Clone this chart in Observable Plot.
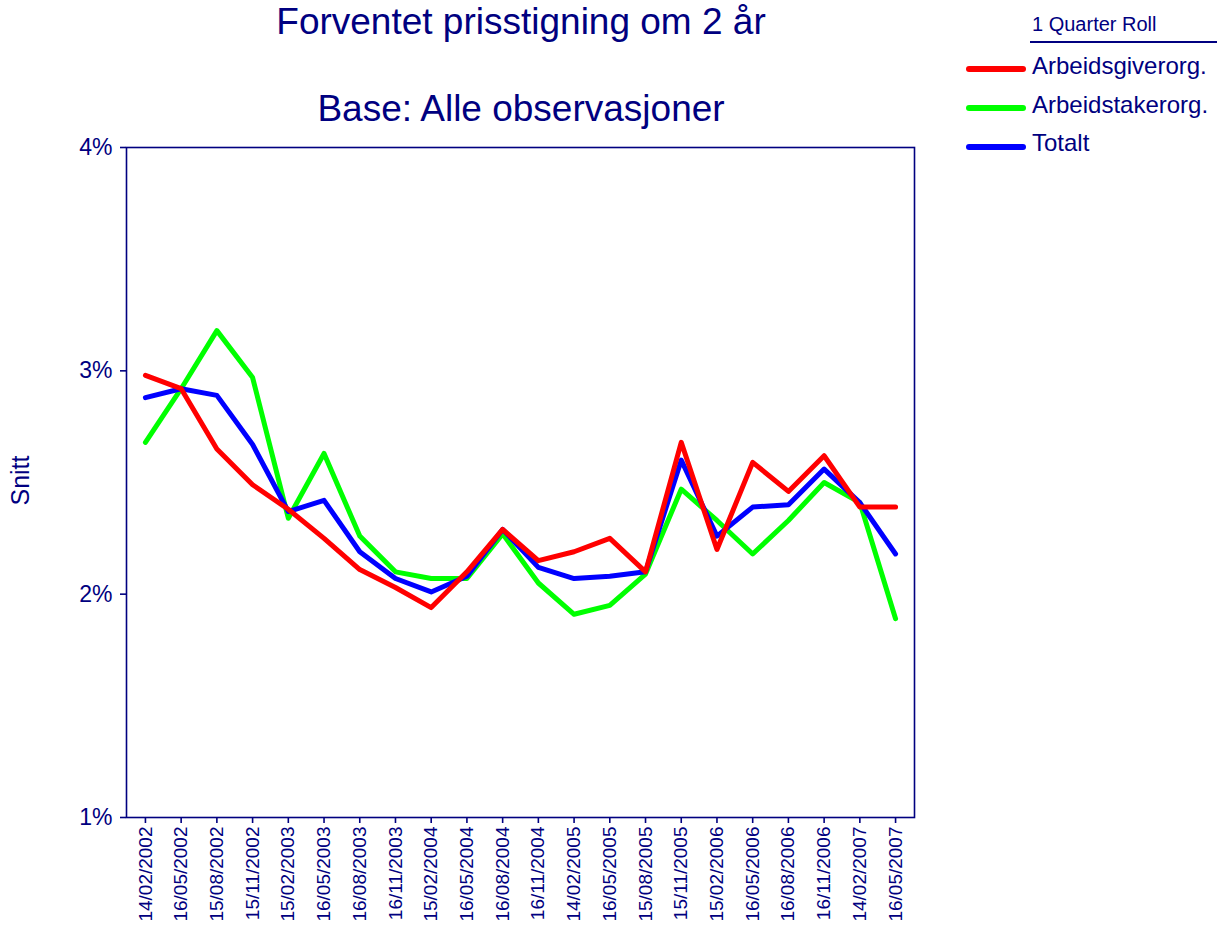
<!DOCTYPE html>
<html>
<head>
<meta charset="utf-8">
<script src="https://cdn.jsdelivr.net/npm/d3@7"></script>
<script src="https://cdn.jsdelivr.net/npm/@observablehq/plot@0.6"></script>
<style>
  html, body { margin: 0; padding: 0; background: #fff; }
  #wrap { position: relative; width: 1217px; height: 927px; font-family: "Liberation Sans", Arial, sans-serif; color: #000080; }
  .t { position: absolute; white-space: nowrap; line-height: normal; }
  .sw { position: absolute; height: 6px; border-radius: 3px; width: 60px; left: 966px; }
</style>
</head>
<body>
<div id="wrap">
  <div id="chart" style="position:absolute;left:0;top:0;"></div>
  <div class="t" style="left:0;width:1042px;text-align:center;top:1px;font-size:37px;">Forventet prisstigning om 2 år</div>
  <div class="t" style="left:0;width:1042px;text-align:center;top:88px;font-size:37px;">Base: Alle observasjoner</div>
  <div class="t" style="left:-30px;width:100px;text-align:center;top:466px;font-size:25px;transform:rotate(-90deg);transform-origin:50% 50%;">Snitt</div>
  <div class="t" style="left:1032px;top:13px;font-size:20px;">1 Quarter Roll</div>
  <div style="position:absolute;left:1030px;top:41px;width:187px;height:2px;background:#000080;"></div>
  <div class="sw" style="top:66px;background:#ff0000;"></div>
  <div class="t" style="left:1032px;top:52px;font-size:24px;">Arbeidsgiverorg.</div>
  <div class="sw" style="top:105px;background:#00ff00;"></div>
  <div class="t" style="left:1032px;top:91px;font-size:24px;">Arbeidstakerorg.</div>
  <div class="sw" style="top:144px;background:#0000ff;"></div>
  <div class="t" style="left:1032px;top:129px;font-size:24px;">Totalt</div>
</div>
<script>
const dates = ["14/02/2002","16/05/2002","15/08/2002","15/11/2002","15/02/2003","16/05/2003","16/08/2003","16/11/2003","15/02/2004","16/05/2004","16/08/2004","16/11/2004","14/02/2005","16/05/2005","15/08/2005","15/11/2005","15/02/2006","16/05/2006","16/08/2006","16/11/2006","14/02/2007","16/05/2007"];
const arbeidsgiver = [2.98, 2.92, 2.65, 2.49, 2.38, 2.25, 2.11, 2.03, 1.94, 2.10, 2.29, 2.15, 2.19, 2.25, 2.10, 2.68, 2.20, 2.59, 2.46, 2.62, 2.39, 2.39];
const arbeidstaker = [2.68, 2.92, 3.18, 2.97, 2.34, 2.63, 2.26, 2.10, 2.07, 2.07, 2.27, 2.05, 1.91, 1.95, 2.09, 2.47, 2.33, 2.18, 2.33, 2.50, 2.41, 1.89];
const totalt = [2.88, 2.92, 2.89, 2.67, 2.37, 2.42, 2.19, 2.07, 2.01, 2.08, 2.29, 2.12, 2.07, 2.08, 2.10, 2.60, 2.26, 2.39, 2.40, 2.56, 2.41, 2.18];
const seriesNames = ["Arbeidsgiverorg.", "Arbeidstakerorg.", "Totalt"];
const seriesColors = ["#ff0000", "#00ff00", "#0000ff"];
const yTicks = [1, 2, 3, 4];

const rows = (vals, name) => dates.map((d, i) => ({date: d, value: vals[i], series: name}));
const navy = "#000080";

const chart = Plot.plot({
  width: 1217,
  height: 927,
  marginLeft: 126,
  marginRight: 303,
  marginTop: 147,
  marginBottom: 110,
  style: {fontFamily: "Liberation Sans, Arial, sans-serif", color: navy, background: "transparent"},
  x: {type: "point", domain: dates, padding: 0.53, round: false},
  y: {domain: [1, 4]},
  marks: [
    Plot.frame({stroke: navy, strokeWidth: 1.6}),
    Plot.axisY({ticks: yTicks, tickFormat: d => d + "%", tickSize: 6, tickPadding: 8, fontSize: 23, stroke: navy, strokeWidth: 1.6, label: null}),
    Plot.axisX({tickRotate: -90, tickSize: 6, tickPadding: 3, fontSize: 19, stroke: navy, strokeWidth: 1.6, label: null}),
    Plot.lineY(rows(arbeidstaker, seriesNames[1]), {x: "date", y: "value", stroke: seriesColors[1], strokeWidth: 5, strokeLinejoin: "round", strokeLinecap: "round"}),
    Plot.lineY(rows(totalt, seriesNames[2]), {x: "date", y: "value", stroke: seriesColors[2], strokeWidth: 5, strokeLinejoin: "round", strokeLinecap: "round"}),
    Plot.lineY(rows(arbeidsgiver, seriesNames[0]), {x: "date", y: "value", stroke: seriesColors[0], strokeWidth: 5, strokeLinejoin: "round", strokeLinecap: "round"})
  ]
});
document.getElementById("chart").appendChild(chart);
</script>
</body>
</html>
